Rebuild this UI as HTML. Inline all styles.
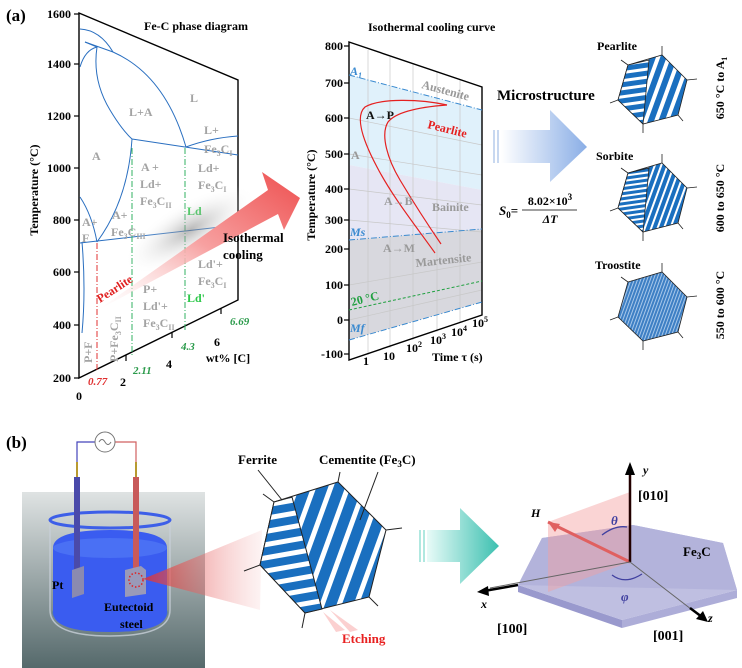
<!DOCTYPE html>
<html><head><meta charset="utf-8"><style>
html,body{margin:0;padding:0;background:#fff}
svg{display:block}
text{font-family:"Liberation Serif",serif;font-weight:bold}
.g{fill:#a3a3a3;font-size:12px}
.t{fill:#000;font-size:12px}
.b{fill:#1a1a1a;font-size:11px}
</style></head><body>
<svg width="742" height="668" viewBox="0 0 742 668" xmlns="http://www.w3.org/2000/svg">
<defs>
<linearGradient id="pk" x1="0" y1="1" x2="1" y2="0"><stop offset="0" stop-color="#fff" stop-opacity="0.3"/><stop offset="0.5" stop-color="#f7a0a0"/><stop offset="1" stop-color="#ee5050"/></linearGradient>
<linearGradient id="bl" x1="0" y1="0" x2="1" y2="0"><stop offset="0" stop-color="#fff"/><stop offset="1" stop-color="#8aaee6"/></linearGradient>
<linearGradient id="tl" x1="0" y1="0" x2="1" y2="0"><stop offset="0" stop-color="#e8fbf8"/><stop offset="1" stop-color="#3cc0b0"/></linearGradient>
<linearGradient id="bg" x1="0" y1="0" x2="0" y2="1"><stop offset="0" stop-color="#dfe3e3"/><stop offset="1" stop-color="#55696b"/></linearGradient>
<linearGradient id="cone" x1="0" y1="0" x2="1" y2="0"><stop offset="0" stop-color="#e03030"/><stop offset="1" stop-color="#f0a0a0" stop-opacity="0.15"/></linearGradient>
<radialGradient id="sh" cx="0.5" cy="0.5" r="0.5"><stop offset="0" stop-color="#888" stop-opacity="0.6"/><stop offset="1" stop-color="#fff" stop-opacity="0"/></radialGradient>
<pattern id="sv" width="10" height="10" patternUnits="userSpaceOnUse" patternTransform="rotate(20)"><rect width="10" height="10" fill="#fff"/><rect width="6" height="10" fill="#1a6fbf"/></pattern>
<pattern id="sh1" width="8" height="8" patternUnits="userSpaceOnUse" patternTransform="rotate(-8)"><rect width="8" height="8" fill="#fff"/><rect width="8" height="5" fill="#1a6fbf"/></pattern>
<pattern id="sv2" width="6" height="6" patternUnits="userSpaceOnUse" patternTransform="rotate(20)"><rect width="6" height="6" fill="#fff"/><rect width="4" height="6" fill="#1a6fbf"/></pattern>
<pattern id="sh2" width="5" height="5" patternUnits="userSpaceOnUse" patternTransform="rotate(-8)"><rect width="5" height="5" fill="#fff"/><rect width="5" height="3" fill="#1a6fbf"/></pattern>
<pattern id="tr" width="3" height="3" patternUnits="userSpaceOnUse" patternTransform="rotate(20)"><rect width="3" height="3" fill="#a8c8ea"/><rect width="2" height="3" fill="#3d7fc4"/></pattern>
<pattern id="bv" width="16" height="16" patternUnits="userSpaceOnUse" patternTransform="rotate(20)"><rect width="16" height="16" fill="#fff"/><rect width="11" height="16" fill="#1a6fbf"/></pattern>
<pattern id="bh" width="13" height="13" patternUnits="userSpaceOnUse" patternTransform="rotate(-10)"><rect width="13" height="13" fill="#fff"/><rect width="13" height="8" fill="#1a6fbf"/></pattern>
</defs>

<!-- ================= (a) phase diagram ================= -->
<text x="6" y="21" style="font-size:17px">(a)</text>
<path d="M79,13 L238,80 L238,300 L79,378 Z" fill="none" stroke="#000" stroke-width="1.4"/>
<g stroke="#000" stroke-width="1.2">
<line x1="74" y1="14" x2="79" y2="14"/><line x1="74" y1="64" x2="79" y2="64"/><line x1="74" y1="116" x2="79" y2="116"/><line x1="74" y1="168" x2="79" y2="168"/><line x1="74" y1="220" x2="79" y2="220"/><line x1="74" y1="272" x2="79" y2="272"/><line x1="74" y1="325" x2="79" y2="325"/><line x1="74" y1="378" x2="79" y2="378"/>
<line x1="126" y1="355" x2="126" y2="361"/><line x1="172" y1="332" x2="172" y2="338"/><line x1="221" y1="308" x2="221" y2="314"/>
</g>
<g class="t" text-anchor="end" style="font-size:12px"><text x="71" y="18">1600</text><text x="71" y="68">1400</text><text x="71" y="120">1200</text><text x="71" y="172">1000</text><text x="71" y="224">800</text><text x="71" y="276">600</text><text x="71" y="329">400</text><text x="71" y="382">200</text></g>
<g class="t" text-anchor="middle"><text x="79" y="400">0</text><text x="123" y="386">2</text><text x="169" y="368">4</text><text x="217" y="346">6</text><text x="228" y="362">wt% [C]</text></g>
<text transform="translate(38,190) rotate(-90)" text-anchor="middle" class="t">Temperature (°C)</text>
<text x="196" y="30" text-anchor="middle" class="t">Fe-C phase diagram</text>
<!-- phase lines -->
<g fill="none" stroke="#2a6fc0" stroke-width="1">
<path d="M80,29 Q100,30 113,52"/>
<path d="M85,42 L113,52 Q165,75 186,147"/>
<path d="M80,67 Q85,50 97,47 Q92,80 110,110 Q122,130 132,139"/>
<path d="M85,42 L97,47"/>
<path d="M132,139 L238,155"/>
<path d="M186,147 Q210,138 238,136"/>
<path d="M132,139 Q128,200 97,242"/>
<path d="M80,197 Q92,215 97,242"/>
<path d="M80,243 L238,225"/>
<path d="M82,242 Q86,290 82,333"/>
</g>
<g fill="none" stroke-width="1" stroke-dasharray="6,2,1,2">
<line x1="97" y1="243" x2="97" y2="372" stroke="#e03030"/>
<line x1="132" y1="148" x2="132" y2="356" stroke="#30b060"/>
<line x1="185" y1="148" x2="185" y2="332" stroke="#30b060"/>
</g>
<g class="g">
<text x="190" y="102">L</text><text x="129" y="116">L+A</text><text x="204" y="134">L+</text><text x="204" y="153">Fe<tspan font-size="8" dy="3">3</tspan><tspan dy="-3">C</tspan><tspan font-size="8" dy="3">I</tspan></text>
<text x="92" y="160">A</text><text x="141" y="171">A +</text><text x="140" y="188">Ld+</text><text x="140" y="205">Fe<tspan font-size="8" dy="3">3</tspan><tspan dy="-3">C</tspan><tspan font-size="8" dy="3">II</tspan></text>
<text x="198" y="172">Ld+</text><text x="198" y="189">Fe<tspan font-size="8" dy="3">3</tspan><tspan dy="-3">C</tspan><tspan font-size="8" dy="3">I</tspan></text>
<text x="112" y="219">A+</text><text x="111" y="236">Fe<tspan font-size="8" dy="3">3</tspan><tspan dy="-3">C</tspan><tspan font-size="8" dy="3">III</tspan></text>
<text x="82" y="226">A+</text><text x="82" y="242">F</text>
<text x="198" y="268">Ld'+</text><text x="198" y="285">Fe<tspan font-size="8" dy="3">3</tspan><tspan dy="-3">C</tspan><tspan font-size="8" dy="3">I</tspan></text>
<text x="143" y="293">P+</text><text x="143" y="310">Ld'+</text><text x="143" y="327">Fe<tspan font-size="8" dy="3">3</tspan><tspan dy="-3">C</tspan><tspan font-size="8" dy="3">II</tspan></text>
<text transform="translate(92,363) rotate(-90)">P+F</text>
<text transform="translate(118,362) rotate(-90)">P+Fe<tspan font-size="8" dy="3">3</tspan><tspan dy="-3">C</tspan><tspan font-size="8" dy="3">II</tspan></text>
</g>
<text x="187" y="215" style="font-size:12px;fill:#2dc84a">Ld</text>
<text x="187" y="302" style="font-size:12px;fill:#2dc84a">Ld'</text>
<g style="font-size:11px;font-style:italic"><text x="230" y="325" fill="#2a9a4a">6.69</text><text x="181" y="350" fill="#2a9a4a">4.3</text><text x="133" y="374" fill="#2a9a4a">2.11</text><text x="88" y="385" fill="#e03030">0.77</text></g>
<!-- big pink arrow -->
<ellipse cx="190" cy="230" rx="75" ry="28" fill="url(#sh)" transform="rotate(-30 190 230)"/>
<polygon points="98,310 268,190 262,172 300,198 284,230 278,214" fill="url(#pk)"/>
<text transform="translate(100,303) rotate(-33)" style="font-size:12px;fill:#e02020">Pearlite</text>
<text x="223" y="242" class="t" style="font-size:13px">Isothermal</text>
<text x="223" y="259" class="t" style="font-size:13px">cooling</text>

<!-- ================= isothermal curve ================= -->
<text x="368" y="31" class="t" style="font-size:12px">Isothermal cooling curve</text>
<polygon points="349,75 482,110 482,190 349,165" fill="#e0f1fb"/>
<polygon points="349,165 482,190 482,229 349,240" fill="#e6e6f4"/>
<polygon points="349,240 482,229 482,302 349,340" fill="#d8d8de"/>
<g stroke="#c8c8c8" stroke-width="0.7">
<line x1="368" y1="50" x2="368" y2="355"/><line x1="390" y1="57" x2="390" y2="348"/><line x1="413" y1="64" x2="413" y2="340"/><line x1="437" y1="72" x2="437" y2="332"/><line x1="460" y1="80" x2="460" y2="323"/>
<line x1="349" y1="118" x2="482" y2="145"/><line x1="349" y1="154" x2="482" y2="175"/><line x1="349" y1="189" x2="482" y2="205"/><line x1="349" y1="220" x2="482" y2="232"/><line x1="349" y1="285" x2="482" y2="262"/><line x1="349" y1="320" x2="482" y2="290"/>
</g>
<path d="M349,42 L482,87 L482,315 L349,360 Z" fill="none" stroke="#000" stroke-width="1.4"/>
<g stroke-width="1" stroke-dasharray="6,2,1,2" fill="none">
<line x1="349" y1="75" x2="482" y2="110" stroke="#3a8ad0"/>
<line x1="349" y1="240" x2="482" y2="229" stroke="#3a8ad0"/>
<line x1="349" y1="340" x2="482" y2="302" stroke="#3a8ad0"/>
<line x1="349" y1="310" x2="482" y2="281" stroke="#20a040" stroke-dasharray="3,2"/>
</g>
<g stroke="#000" stroke-width="1.2"><line x1="344" y1="46" x2="349" y2="46"/><line x1="344" y1="83" x2="349" y2="83"/><line x1="344" y1="118" x2="349" y2="118"/><line x1="344" y1="154" x2="349" y2="154"/><line x1="344" y1="189" x2="349" y2="189"/><line x1="344" y1="220" x2="349" y2="220"/><line x1="344" y1="249" x2="349" y2="249"/><line x1="344" y1="285" x2="349" y2="285"/><line x1="344" y1="320" x2="349" y2="320"/><line x1="344" y1="354" x2="349" y2="354"/></g>
<g class="t" text-anchor="end"><text x="343" y="50">800</text><text x="343" y="87">700</text><text x="343" y="122">600</text><text x="343" y="158">500</text><text x="343" y="193">400</text><text x="343" y="224">300</text><text x="343" y="253">200</text><text x="343" y="289">100</text><text x="343" y="324">0</text><text x="343" y="358">-100</text></g>
<text transform="translate(315,195) rotate(-90)" text-anchor="middle" class="t">Temperature (°C)</text>
<g class="t"><text x="363" y="365">1</text><text x="383" y="360">10</text><text x="406" y="352">10<tspan font-size="8" dy="-5">2</tspan></text><text x="430" y="344">10<tspan font-size="8" dy="-5">3</tspan></text><text x="451" y="336">10<tspan font-size="8" dy="-5">4</tspan></text><text x="472" y="327">10<tspan font-size="8" dy="-5">5</tspan></text><text x="432" y="361">Time τ (s)</text></g>
<g fill="none" stroke="#e52020" stroke-width="1.2">
<path d="M447,105 C420,99 380,98 365,107 C356,115 360,135 377,167 C392,196 415,225 435,253"/>
<path d="M447,105 C420,107 396,112 388,122 C380,135 388,160 400,180 C415,205 428,225 441,244"/>
</g>
<g style="font-size:12px">
<text x="350" y="75" fill="#3a8ad0" style="font-style:italic">A<tspan font-size="8" dy="3">1</tspan></text>
<text transform="translate(421,88) rotate(15)" fill="#999">Austenite</text>
<text x="366" y="119" fill="#111">A→P</text>
<text transform="translate(427,128) rotate(14)" fill="#e52020">Pearlite</text>
<text x="351" y="159" fill="#999">A</text>
<text x="384" y="205" fill="#999">A→B</text>
<text x="432" y="211" fill="#999">Bainite</text>
<text x="350" y="236" fill="#3a8ad0" style="font-style:italic">Ms</text>
<text x="383" y="252" fill="#999">A→M</text>
<text transform="translate(416,267) rotate(-6)" fill="#999">Martensite</text>
<text transform="translate(352,306) rotate(-14)" fill="#20a040">20 °C</text>
<text x="350" y="332" fill="#3a8ad0" style="font-style:italic">Mf</text>
</g>
<!-- blue arrow -->
<rect x="493" y="130" width="2" height="33" fill="#c8d8f0"/><rect x="497" y="130" width="2" height="33" fill="#c8d8f0"/>
<polygon points="501,130 550,130 550,110 587,147 550,182 550,163 501,163" fill="url(#bl)"/>
<text x="497" y="100" class="t" style="font-size:15px">Microstructure</text>
<text x="499" y="215" class="t" style="font-style:italic;font-size:13px">S<tspan font-size="9" dy="3" font-style="normal">0</tspan><tspan dy="-3" font-style="normal">=</tspan></text>
<text x="550" y="205" text-anchor="middle" class="t" style="font-size:12px">8.02×10<tspan font-size="9" dy="-5">3</tspan></text>
<line x1="522" y1="210" x2="577" y2="210" stroke="#000" stroke-width="0.8"/>
<text x="550" y="223" text-anchor="middle" class="t" style="font-size:12px;font-style:italic">ΔT</text>
<!-- hexagons right -->
<g id="hexP">
<polygon points="628,65 662,55 687,80 678,115 643,124 618,100" fill="url(#sv)" stroke="#222" stroke-width="0.8"/>
<polygon points="628,65 649,60 643,124 618,100" fill="url(#sh1)" stroke="#222" stroke-width="0.8"/>
<g stroke="#222" stroke-width="0.8"><line x1="628" y1="65" x2="621" y2="60"/><line x1="662" y1="55" x2="662" y2="46"/><line x1="687" y1="80" x2="697" y2="79"/><line x1="678" y1="115" x2="683" y2="121"/><line x1="643" y1="124" x2="643" y2="133"/><line x1="618" y1="100" x2="610" y2="103"/></g>
</g>
<g transform="translate(0,108)">
<polygon points="628,65 662,55 687,80 678,115 643,124 618,100" fill="url(#sv2)" stroke="#222" stroke-width="0.8"/>
<polygon points="628,65 649,60 643,124 618,100" fill="url(#sh2)" stroke="#222" stroke-width="0.8"/>
<g stroke="#222" stroke-width="0.8"><line x1="628" y1="65" x2="621" y2="60"/><line x1="662" y1="55" x2="662" y2="46"/><line x1="687" y1="80" x2="697" y2="79"/><line x1="678" y1="115" x2="683" y2="121"/><line x1="643" y1="124" x2="643" y2="133"/><line x1="618" y1="100" x2="610" y2="103"/></g>
</g>
<g transform="translate(0,217)">
<polygon points="628,65 662,55 687,80 678,115 643,124 618,100" fill="url(#tr)" stroke="#222" stroke-width="0.8"/>
<g stroke="#222" stroke-width="0.8"><line x1="628" y1="65" x2="621" y2="60"/><line x1="662" y1="55" x2="662" y2="46"/><line x1="687" y1="80" x2="697" y2="79"/><line x1="678" y1="115" x2="683" y2="121"/><line x1="643" y1="124" x2="643" y2="133"/><line x1="618" y1="100" x2="610" y2="103"/></g>
</g>
<g class="t"><text x="597" y="50">Pearlite</text><text x="596" y="160">Sorbite</text><text x="595" y="269">Troostite</text>
<text transform="translate(724,88) rotate(-90)" text-anchor="middle">650 °C to A<tspan font-size="8" dy="3">1</tspan></text>
<text transform="translate(724,198) rotate(-90)" text-anchor="middle">600 to 650 °C</text>
<text transform="translate(724,305) rotate(-90)" text-anchor="middle">550 to 600 °C</text></g>

<!-- ================= (b) ================= -->
<text x="6" y="448" style="font-size:17px">(b)</text>
<rect x="22" y="492" width="183" height="176" fill="url(#bg)"/>
<!-- wires -->
<path d="M77,462 L77,442 L95,442" fill="none" stroke="#4444bb" stroke-width="1.2"/>
<path d="M136,462 L136,442 L115,442" fill="none" stroke="#d06060" stroke-width="1.2"/>
<circle cx="105" cy="442" r="10" fill="#fff" stroke="#777" stroke-width="1"/>
<path d="M99,442 q3,-5 6,0 q3,5 6,0" fill="none" stroke="#777" stroke-width="1"/>
<rect x="76" y="462" width="2" height="15" fill="#b89a30"/><rect x="135" y="462" width="2" height="15" fill="#b89a30"/>
<!-- beaker -->
<ellipse cx="110" cy="613" rx="58" ry="16" fill="#2d6fb0" opacity="0.4"/>
<path d="M53,548 Q53,530 110,530 Q167,530 167,548 L167,612 Q167,632 110,632 Q53,632 53,612 Z" fill="#3a5cf0"/>
<ellipse cx="110" cy="548" rx="57" ry="10" fill="#4a70f4"/>
<path d="M50,520 L50,610 Q50,636 110,636 Q170,636 170,610 L170,520" fill="none" stroke="#c8d0d8" stroke-width="1.5" opacity="0.8"/>
<ellipse cx="110" cy="520" rx="60" ry="8" fill="none" stroke="#3d5fe8" stroke-width="3"/>
<rect x="74" y="477" width="6" height="95" fill="#4a4aaa"/>
<rect x="133" y="477" width="6" height="92" fill="#c85a5a"/>
<polygon points="72,570 84,566 84,594 72,598" fill="#8a8ab0"/>
<polygon points="125,570 141,566 146,570 146,594 125,597" fill="#9a9ab8"/>
<circle cx="136" cy="580" r="7" fill="none" stroke="#e02020" stroke-width="1.5" stroke-dasharray="1.5,2"/>
<polygon points="143,579 262,530 260,610" fill="url(#cone)" opacity="0.8"/>
<g class="t"><text x="52" y="589">Pt</text><text x="104" y="611">Eutectoid</text><text x="120" y="628">steel</text></g>
<!-- hexagon b -->
<polygon points="274,502 338,482 386,530 369,597 305,613 260,565" fill="url(#bv)" stroke="#222" stroke-width="1"/>
<polygon points="274,502 292,497 322,609 305,613 260,565" fill="url(#bh)" stroke="#222" stroke-width="1"/>
<g stroke="#222" stroke-width="1"><line x1="274" y1="502" x2="263" y2="494"/><line x1="338" y1="482" x2="340" y2="472"/><line x1="386" y1="530" x2="402" y2="528"/><line x1="369" y1="597" x2="378" y2="606"/><line x1="305" y1="613" x2="302" y2="628"/><line x1="260" y1="565" x2="244" y2="571"/>
<line x1="258" y1="470" x2="282" y2="500"/><line x1="378" y1="472" x2="360" y2="520"/></g>
<polygon points="323,612 345,630 336,632" fill="#f8b0b0" opacity="0.6"/><polygon points="330,610 358,630 350,632" fill="#f8b0b0" opacity="0.6"/>
<g class="t" style="font-size:13px"><text x="238" y="464">Ferrite</text><text x="319" y="464">Cementite (Fe<tspan font-size="9" dy="3">3</tspan><tspan dy="-3">C)</tspan></text></g>
<text x="342" y="643" style="font-size:13px;fill:#e82020">Etching</text>
<!-- teal arrow -->
<rect x="419" y="530" width="2" height="32" fill="#b0e8e0"/><rect x="423" y="530" width="2" height="32" fill="#b0e8e0"/>
<polygon points="427,530 460,530 460,508 499,546 460,584 460,562 427,562" fill="url(#tl)"/>
<!-- 3D plane -->
<polygon points="518,585 542,538 633,525 723,543 737,590 622,620 622,628 737,598 737,590" fill="#8a8ac8" opacity="0.7"/>
<polygon points="518,585 622,620 622,628 518,592" fill="#8080c0" opacity="0.8"/>
<polygon points="518,585 542,538 633,525 723,543 737,590 622,620" fill="#b4b4dc" opacity="0.85"/>
<polygon points="548,522 630,492 630,562 548,592" fill="#f4a0a0" opacity="0.45"/>
<line x1="630" y1="562" x2="548" y2="522" stroke="#e06060" stroke-width="3"/>
<polygon points="548,522 560,524 555,532" fill="#e06060"/>
<line x1="630" y1="562" x2="630" y2="470" stroke="#200" stroke-width="2.5"/>
<polygon points="630,462 625,475 635,475" fill="#000"/>
<line x1="630" y1="562" x2="490" y2="588" stroke="#666" stroke-width="1"/>
<line x1="518" y1="585" x2="484" y2="591" stroke="#000" stroke-width="2.5"/>
<polygon points="477,592 488,586 489,596" fill="#000"/>
<line x1="630" y1="562" x2="700" y2="616" stroke="#666" stroke-width="1"/>
<line x1="690" y1="608" x2="702" y2="617" stroke="#000" stroke-width="2.5"/>
<polygon points="708,622 696,619 703,611" fill="#000"/>
<path d="M602,535 Q615,525 627,527" fill="none" stroke="#4040a0" stroke-width="1.3"/>
<path d="M612,575 Q625,585 642,574" fill="none" stroke="#4040a0" stroke-width="1.3"/>
<g class="t" style="font-size:14px">
<text x="643" y="474" style="font-style:italic;font-size:12px">y</text><text x="638" y="500">[010]</text>
<text x="531" y="517" style="font-style:italic;font-size:12px">H</text>
<text x="611" y="525" style="font-style:italic;fill:#4040a0;font-size:13px">θ</text>
<text x="683" y="556" style="font-size:13px">Fe<tspan font-size="9" dy="3">3</tspan><tspan dy="-3">C</tspan></text>
<text x="621" y="601" style="font-style:italic;fill:#4040a0;font-size:13px">φ</text>
<text x="481" y="608" style="font-style:italic;font-size:12px">x</text><text x="497" y="633">[100]</text>
<text x="708" y="622" style="font-style:italic;font-size:12px">z</text><text x="653" y="640">[001]</text>
</g>
</svg>
</body></html>
